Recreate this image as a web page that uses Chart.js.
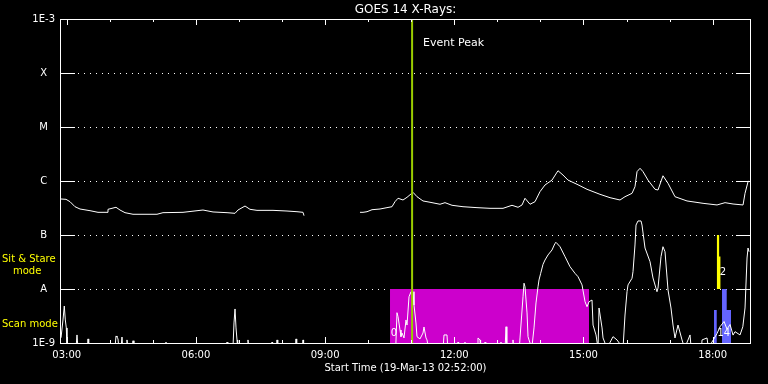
<!DOCTYPE html>
<html><head><meta charset="utf-8">
<script src="https://cdn.jsdelivr.net/npm/chart.js@4/dist/chart.umd.min.js"></script>
<style>html,body{margin:0;padding:0;background:#000;}canvas{display:block;background:#000;}</style>
</head><body>
<canvas id="c" width="768" height="384"></canvas>
<script>
// ---- data (time in hours of 19-Mar-13, flux in W/m^2) ----
const timeRange = [2.8667, 18.8667];
const fluxRange = [1e-9, 1e-3];

const longTimes = [2.867,2.983,3.076,3.192,3.308,3.540,3.726,3.935,3.958,4.144,4.237,4.353,4.539,5.096,5.235,5.700,6.164,6.397,6.722,6.908,6.977,7.140,7.256,7.418,7.790,8.115,8.347,8.487,8.510,
  9.0,
  9.810,9.880,9.973,10.089,10.275,10.437,10.553,10.623,10.693,10.809,10.902,11.041,11.134,11.273,11.436,11.668,11.784,11.947,12.202,12.527,12.829,13.131,13.340,13.480,13.573,13.642,13.758,13.874,13.990,14.106,14.269,14.408,14.524,14.640,14.849,15.082,15.383,15.616,15.848,15.964,16.127,16.196,16.243,16.313,16.382,16.498,16.661,16.730,16.846,16.963,17.125,17.404,17.776,18.101,18.287,18.473,18.705,18.751,18.821,18.844];
const longFlux = [4.64e-7,4.58e-7,4.14e-7,3.34e-7,3.03e-7,2.82e-7,2.63e-7,2.63e-7,2.99e-7,3.26e-7,2.90e-7,2.59e-7,2.42e-7,2.42e-7,2.59e-7,2.63e-7,2.90e-7,2.67e-7,2.59e-7,2.52e-7,2.90e-7,3.44e-7,2.99e-7,2.86e-7,2.86e-7,2.78e-7,2.70e-7,2.63e-7,2.28e-7,
  null,
  2.63e-7,2.63e-7,2.70e-7,2.94e-7,3.03e-7,3.21e-7,3.34e-7,4.14e-7,4.79e-7,4.45e-7,4.99e-7,6.18e-7,5.12e-7,4.27e-7,4.04e-7,3.71e-7,3.97e-7,3.55e-7,3.34e-7,3.21e-7,3.12e-7,3.12e-7,3.55e-7,3.26e-7,3.60e-7,4.79e-7,3.71e-7,4.14e-7,6.34e-7,8.43e-7,1.04e-6,1.55e-6,1.29e-6,1.04e-6,8.69e-7,7.02e-7,5.67e-7,4.91e-7,4.45e-7,5.12e-7,5.91e-7,7.84e-7,1.49e-6,1.72e-6,1.49e-6,1.04e-6,7.02e-7,6.81e-7,1.25e-6,9.06e-7,5.12e-7,4.27e-7,3.86e-7,3.60e-7,3.97e-7,3.75e-7,3.60e-7,5.91e-7,9.71e-7,1.0e-6];

const shortTimes = [2.867,2.913,2.943,2.967,2.990,3.006,3.215,3.238,3.261,3.48,3.494,3.51,4.12,4.144,4.167,4.190,4.21,4.26,4.283,4.30,4.38,4.399,4.42,4.52,4.539,4.56,5.29,5.305,5.32,6.70,6.722,6.74,6.86,6.884,6.908,6.931,6.954,6.97,7.19,7.209,7.23,7.75,7.767,7.78,7.87,7.883,7.90,8.31,8.324,8.34,8.47,8.487,8.50,
  10.64,10.669,10.693,10.739,10.762,10.786,10.832,10.878,10.902,10.948,10.995,11.041,11.064,11.110,11.134,11.203,11.273,11.296,11.343,11.366,11.40,11.74,11.761,11.830,11.85,12.07,12.086,12.10,12.23,12.248,12.26,12.53,12.550,12.597,12.61,12.70,12.713,12.73,13.07,13.084,13.10,13.18,13.201,13.22,13.35,13.363,13.38,13.51,13.526,13.596,13.619,13.642,13.689,13.712,13.735,13.80,
  13.851,13.897,13.944,13.967,14.006,14.060,14.106,14.176,14.269,14.339,14.362,14.455,14.571,14.687,14.803,14.873,14.966,15.036,15.082,15.129,15.198,15.222,15.291,15.338,15.361,15.431,15.454,15.546,15.686,15.779,15.918,
  15.964,16.011,16.034,16.127,16.150,16.196,16.220,16.266,16.336,16.359,16.429,16.545,16.614,16.707,16.730,16.800,16.846,16.893,16.963,17.032,17.079,17.125,17.195,17.288,17.35,17.474,17.50,17.74,17.753,17.869,17.90,18.101,18.171,18.264,18.333,18.403,18.473,18.519,18.635,18.70,18.751,18.798,18.821,18.844];
const shortFlux = [1.25e-9,2.67e-9,4.84e-9,2.67e-9,1.90e-9,8e-10,8e-10,1.41e-9,8e-10,8e-10,1.19e-9,8e-10,8e-10,1.35e-9,1.29e-9,1.19e-9,8e-10,8e-10,1.29e-9,8e-10,8e-10,1.14e-9,8e-10,8e-10,1.10e-9,8e-10,8e-10,1.04e-9,8e-10,8e-10,1.04e-9,8e-10,8e-10,2.35e-9,4.27e-9,1.90e-9,1.14e-9,8e-10,8e-10,1.14e-9,8e-10,8e-10,1.04e-9,8e-10,8e-10,1.14e-9,8e-10,8e-10,1.19e-9,8e-10,8e-10,1.14e-9,8e-10,
  8e-10,3.64e-9,3.07e-9,1.74e-9,1.31e-9,1.53e-9,1.24e-9,2.67e-9,2.15e-9,7.19e-9,8.91e-9,8.91e-9,5.06e-9,2.35e-9,1.31e-9,1.19e-9,1.53e-9,1.98e-9,1.24e-9,1.14e-9,8e-10,8e-10,1.41e-9,1.41e-9,8e-10,8e-10,1.04e-9,8e-10,8e-10,1.04e-9,8e-10,8e-10,1.24e-9,1.14e-9,8e-10,8e-10,1.04e-9,8e-10,8e-10,1.04e-9,8e-10,8e-10,2.00e-9,8e-10,8e-10,1.14e-9,8e-10,8e-10,1.24e-9,7.19e-9,1.28e-8,1.10e-8,3.60e-9,1.31e-9,1.14e-9,8e-10,
  1.90e-9,5.51e-9,1.10e-8,1.47e-8,1.95e-8,2.86e-8,3.44e-8,4.27e-8,5.28e-8,7.02e-8,7.32e-8,6.07e-8,3.97e-8,2.59e-8,1.95e-8,1.69e-8,1.19e-8,5.82e-9,4.70e-9,5.82e-9,6.25e-9,2.15e-9,1.41e-9,8e-10,4.45e-9,1.90e-9,1.24e-9,8e-10,1.31e-9,1.14e-9,8e-10,
  3.30e-9,8.91e-9,1.19e-8,1.58e-8,2.09e-8,6.53e-8,1.53e-7,1.82e-7,1.82e-7,1.53e-7,5.74e-8,3.21e-8,1.60e-8,8.91e-9,1.04e-8,3.97e-8,6.07e-8,4.91e-8,9.58e-9,4.45e-9,2.15e-9,1.24e-9,2.15e-9,1.14e-9,8e-10,1.41e-9,8e-10,8e-10,1.14e-9,1.24e-9,8e-10,1.50e-9,2.00e-9,2.50e-9,1.80e-9,2.20e-9,1.40e-9,1.62e-9,1.41e-9,2.00e-9,4.45e-9,3.75e-8,5.74e-8,4.91e-8];

const flareBandTimes = [10.507, 15.128];
const flareBandFlux = [1e-8, 1e-8];
const sitStareTimes = [18.094, 18.150, 18.185];
const sitStareFlux = [1e-7, 4e-8, 1e-8];
const scanTimes = [18.031, 18.094, 18.217, 18.326, 18.426];
const scanFlux = [4.08e-9, 1e-9, 1e-8, 4.08e-9, 1e-9];
const eventPeakTime = 11.02;

const xTickHours = [3, 6, 9, 12, 15, 18];
const xTickLabels = ['03:00', '06:00', '09:00', '12:00', '15:00', '18:00'];
const yTickValues = [1e-9, 1e-8, 1e-7, 1e-6, 1e-5, 1e-4, 1e-3];
const yTickLabels = ['1E-9', 'A', 'B', 'C', 'M', 'X', '1E-3'];

const countLabels = ['0', '2', '14'];
const countTimes = [10.60, 18.24, 18.26];
const countFlux = [1.53e-9, 2.07e-8, 1.53e-9];

// ---- build ----
const pts = (ts, vs) => ts.map((t, i) => ({x: t, y: vs[i]}));
Chart.defaults.font.family = '"DejaVu Sans", sans-serif';
Chart.defaults.font.size = 10;
Chart.defaults.color = '#fff';

function seg(ctx, x1, y1, x2, y2) { ctx.beginPath(); ctx.moveTo(x1, y1); ctx.lineTo(x2, y2); ctx.stroke(); }

const decor = {
  id: 'decor',
  beforeDatasetsDraw(chart) {
    const {ctx, chartArea: a, scales: {y}} = chart;
    ctx.save();
    ctx.strokeStyle = '#fff'; ctx.lineWidth = 1;
    yTickValues.slice(1, -1).forEach(v => {
      const py = Math.round(y.getPixelForValue(v)) + 0.5;
      ctx.setLineDash([]);
      seg(ctx, a.left, py, a.left + 14, py);
      seg(ctx, a.right - 14, py, a.right, py);
      ctx.setLineDash([1, 5]);
      seg(ctx, a.left + 17, py, a.right - 16, py);
    });
    ctx.restore();
  },
  afterDatasetsDraw(chart) {
    const {ctx, chartArea: a, scales: {x, y}} = chart;
    ctx.save();
    ctx.strokeStyle = '#fff'; ctx.lineWidth = 1; ctx.setLineDash([]);
    ctx.strokeRect(a.left - 0.5, a.top + 0.5, a.right - a.left + 1, a.bottom - a.top);
    for (let h = Math.ceil(timeRange[0]); h <= Math.floor(timeRange[1]); h++) {
      const px = Math.round(x.getPixelForValue(h)) + 0.5;
      const len = h % 3 === 0 ? 6 : 3;
      seg(ctx, px, a.top, px, a.top + len);
      seg(ctx, px, a.bottom, px, a.bottom - len);
    }
    ctx.fillStyle = '#fff';
    ctx.textBaseline = 'middle';
    ctx.textAlign = 'center';
    ctx.font = '12px "DejaVu Sans"';
    ctx.fillText('GOES 14 X-Rays:', (a.left + a.right) / 2, 10);
    ctx.font = '11px "DejaVu Sans"';
    ctx.textAlign = 'left';
    ctx.fillText('Event Peak', x.getPixelForValue(eventPeakTime) + 11, a.top + 24);
    ctx.textAlign = 'center';
    ctx.font = '10px "DejaVu Sans"';
    countLabels.forEach((t, i) => ctx.fillText(t, x.getPixelForValue(countTimes[i]), y.getPixelForValue(countFlux[i])));
    ctx.fillStyle = '#ffff00';
    ctx.textAlign = 'left';
    ctx.fillText('Sit & Stare', 2, y.getPixelForValue(3.6e-8));
    ctx.fillText('mode', 13, y.getPixelForValue(2.15e-8));
    ctx.fillText('Scan mode', 2, y.getPixelForValue(2.25e-9));
    ctx.restore();
  }
};

new Chart(document.getElementById('c'), {
  type: 'line',
  data: {
    datasets: [
      {data: pts(longTimes, longFlux), borderColor: '#fff', borderWidth: 1, order: 3, spanGaps: false},
      {data: pts(shortTimes, shortFlux), borderColor: '#fff', borderWidth: 1, order: 3},
      {data: pts(flareBandTimes, flareBandFlux), borderWidth: 0, borderColor: 'rgba(0,0,0,0)', backgroundColor: '#cc00cc', fill: 'start', order: 6},
      {data: pts(scanTimes, scanFlux), stepped: 'before', borderWidth: 0, borderColor: 'rgba(0,0,0,0)', backgroundColor: '#6464ff', fill: 'start', order: 5},
      {data: pts(sitStareTimes, sitStareFlux), stepped: 'before', borderWidth: 0, borderColor: 'rgba(0,0,0,0)', backgroundColor: '#ffff00', fill: {value: 1e-8}, order: 1},
      {data: [{x: eventPeakTime, y: fluxRange[1]}, {x: eventPeakTime, y: fluxRange[0]}], borderColor: '#9acd00', borderWidth: 2, order: 1}
    ]
  },
  options: {
    responsive: false, animation: false, devicePixelRatio: 1,
    layout: {padding: {top: 19, right: 18, left: 0, bottom: 0}},
    plugins: {legend: {display: false}, tooltip: {enabled: false}, title: {display: false}},
    elements: {point: {radius: 0}, line: {tension: 0}},
    scales: {
      x: {
        type: 'linear', min: timeRange[0], max: timeRange[1],
        afterBuildTicks: s => { s.ticks = xTickHours.map(v => ({value: v})); },
        afterFit: s => { s.height = 41; },
        grid: {display: false, drawTicks: false}, border: {display: false},
        ticks: {color: '#fff', padding: 6, maxRotation: 0, autoSkip: false, font: {size: 10}, callback: (v, i) => xTickLabels[i]},
        title: {display: true, text: 'Start Time (19-Mar-13 02:52:00)', color: '#fff', font: {size: 10}, padding: {top: 0, bottom: 10}}
      },
      y: {
        type: 'logarithmic', min: fluxRange[0], max: fluxRange[1],
        afterBuildTicks: s => { s.ticks = yTickValues.map(v => ({value: v})); },
        afterFit: s => { s.width = 61; },
        grid: {display: false, drawTicks: false}, border: {display: false},
        ticks: {color: '#fff', padding: 6, crossAlign: 'center', autoSkip: false, font: {size: 10}, callback: (v, i) => yTickLabels[i]}
      }
    }
  },
  plugins: [decor]
});
</script>
</body></html>
